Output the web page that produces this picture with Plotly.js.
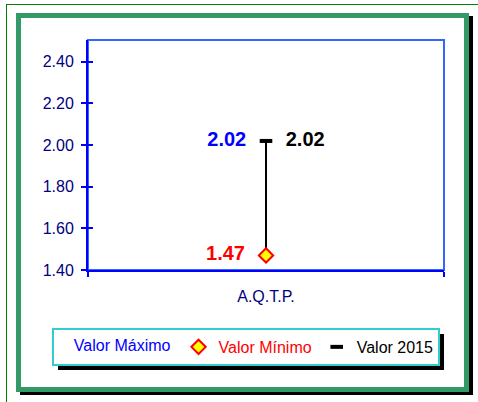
<!DOCTYPE html>
<html>
<head>
<meta charset="utf-8">
<script src="https://cdn.plot.ly/plotly-3.0.1.min.js"></script>
<style>
  html, body { margin: 0; padding: 0; background: #ffffff; }
  #wrap { position: relative; width: 478px; height: 402px; overflow: hidden; background: #ffffff; }
  #thin { position: absolute; left: 6px; top: 4px; width: 600px; height: 600px; border: 1px solid #008000; box-sizing: border-box; }
  #frame { position: absolute; left: 16px; top: 13px; width: 453px; height: 379px; border: 5px solid #339966; box-sizing: border-box; background: #ffffff; box-shadow: 4px 3px 0 #000000; }
  #legshadow { position: absolute; background: #000000; display: none; }
  #chart { position: absolute; left: 0; top: 0; width: 478px; height: 402px; }
</style>
</head>
<body>
<div id="wrap">
  <div id="thin"></div>
  <div id="frame"></div>
  <div id="legshadow"></div>
  <div id="chart"></div>
</div>
<script>
// ---- data ----
var categories = ['A.Q.T.P.'];
var valorMaximo = [2.02];
var valorMinimo = [1.47];
var valor2015 = [2.02];
var seriesNames = ['Valor Máximo', 'Valor Mínimo', 'Valor 2015'];
var yTickVals = [1.40, 1.60, 1.80, 2.00, 2.20, 2.40];

var FONT = 'Liberation Sans, Arial, sans-serif';
var fmt = function (v) { return v.toFixed(2); };

var traces = [
  // high-low line
  {
    x: [categories[0], categories[0]],
    y: [valorMaximo[0], valorMinimo[0]],
    mode: 'lines', line: { color: '#000000', width: 2 },
    showlegend: false, hoverinfo: 'skip'
  },
  // Valor Máximo (no visible marker; its legend entry is the legend title)
  {
    x: categories, y: valorMaximo, name: seriesNames[0],
    mode: 'markers', marker: { color: 'rgba(0,0,0,0)', size: 10 },
    showlegend: false, hoverinfo: 'skip'
  },
  // Valor Mínimo
  {
    x: categories, y: valorMinimo, name: '<span style="color:#ff0000">' + seriesNames[1] + '</span>',
    mode: 'markers', marker: { symbol: 'diamond', color: '#ffff00', size: 11, line: { color: '#ff0000', width: 2 } },
    hoverinfo: 'skip'
  },
  // Valor 2015
  {
    x: categories, y: valor2015, name: '<span style="color:#000000">' + seriesNames[2] + '</span>',
    mode: 'markers', marker: { symbol: 'line-ew', color: '#000000', size: 9, line: { color: '#000000', width: 4 } },
    hoverinfo: 'skip'
  },
  // labels
  {
    x: categories, y: valorMaximo, text: valorMaximo.map(fmt), mode: 'markers+text',
    textposition: 'middle left', marker: { color: 'rgba(0,0,0,0)', size: 30 },
    textfont: { family: FONT, size: 20, color: '#0000ff', weight: 'bold' },
    showlegend: false, hoverinfo: 'skip'
  },
  {
    x: categories, y: valor2015, text: valor2015.map(fmt), mode: 'markers+text',
    textposition: 'middle right', marker: { color: 'rgba(0,0,0,0)', size: 30 },
    textfont: { family: FONT, size: 20, color: '#000000', weight: 'bold' },
    showlegend: false, hoverinfo: 'skip'
  },
  {
    x: categories, y: valorMinimo, text: valorMinimo.map(fmt), mode: 'markers+text',
    textposition: 'middle left', marker: { color: 'rgba(0,0,0,0)', size: 32 },
    textfont: { family: FONT, size: 20, color: '#ff0000', weight: 'bold' },
    showlegend: false, hoverinfo: 'skip'
  },
  // dummy for overlay axes
  {
    x: categories, y: [valorMinimo[0]], xaxis: 'x2', yaxis: 'y2', mode: 'markers',
    marker: { color: 'rgba(0,0,0,0)' }, showlegend: false, hoverinfo: 'skip'
  }
];

var yRange = [1.4, 2.505];

var layout = {
  width: 478, height: 402,
  margin: { l: 88, r: 34, t: 40, b: 132 },
  paper_bgcolor: 'rgba(0,0,0,0)',
  plot_bgcolor: 'rgba(0,0,0,0)',
  font: { family: FONT, size: 16, color: '#000080' },
  showlegend: true,
  xaxis: {
    type: 'category', categoryarray: categories, range: [-0.5, 0.5],
    showgrid: false, zeroline: false,
    showline: true, linecolor: '#0000ff', linewidth: 2,
    ticks: 'outside', tickson: 'boundaries', ticklen: 5, tickwidth: 2, tickcolor: '#0000ff',
    tickfont: { family: FONT, size: 16, color: '#000080' },
    ticklabelstandoff: 11
  },
  xaxis2: {
    type: 'category', categoryarray: categories, range: [-0.5, 0.5], overlaying: 'x',
    showgrid: false, zeroline: false, showline: false,
    ticks: 'inside', tickson: 'boundaries', ticklen: 5, tickwidth: 2, tickcolor: '#0000ff',
    showticklabels: false
  },
  yaxis: {
    range: yRange, tickvals: yTickVals, ticktext: yTickVals.map(fmt),
    showgrid: false, zeroline: false,
    showline: true, linecolor: '#0000ff', linewidth: 2,
    ticks: 'outside', ticklen: 5, tickwidth: 2, tickcolor: '#0000ff',
    tickfont: { family: FONT, size: 16, color: '#000080' },
    ticklabelstandoff: 4
  },
  yaxis2: {
    range: yRange, tickvals: yTickVals, overlaying: 'y',
    showgrid: false, zeroline: false, showline: false,
    ticks: 'inside', ticklen: 5, tickwidth: 2, tickcolor: '#0000ff',
    showticklabels: false
  },
  shapes: [
    { type: 'rect', xref: 'paper', yref: 'paper', x0: 0, x1: 1, y0: 0, y1: 1,
      line: { color: '#3366ff', width: 2 }, layer: 'below' }
  ],
  legend: {
    orientation: 'h', x: -0.101, xanchor: 'left', y: -0.252, yanchor: 'top',
    bgcolor: '#ffffff', bordercolor: '#33cccc', borderwidth: 2,
    font: { family: FONT, size: 16, color: '#000000' },
    title: {
      text: '&nbsp;&nbsp;&nbsp;&nbsp;<span style="color:#0000ff">' + seriesNames[0] + '</span>',
      side: 'left', font: { family: FONT, size: 16, color: '#0000ff' }
    },
    itemclick: false, itemdoubleclick: false
  }
};

Plotly.newPlot('chart', traces, layout, { displayModeBar: false, staticPlot: true }).then(function () {
  var bg = document.querySelector('#chart .legend rect.bg');
  if (bg) {
    var r = bg.getBoundingClientRect();
    var w = document.getElementById('wrap').getBoundingClientRect();
    var s = document.getElementById('legshadow');
    s.style.left = (r.left - w.left + 5) + 'px';
    s.style.top = (r.top - w.top + 5) + 'px';
    s.style.width = r.width + 'px';
    s.style.height = r.height + 'px';
    s.style.display = 'block';
  }
});
</script>
</body>
</html>
